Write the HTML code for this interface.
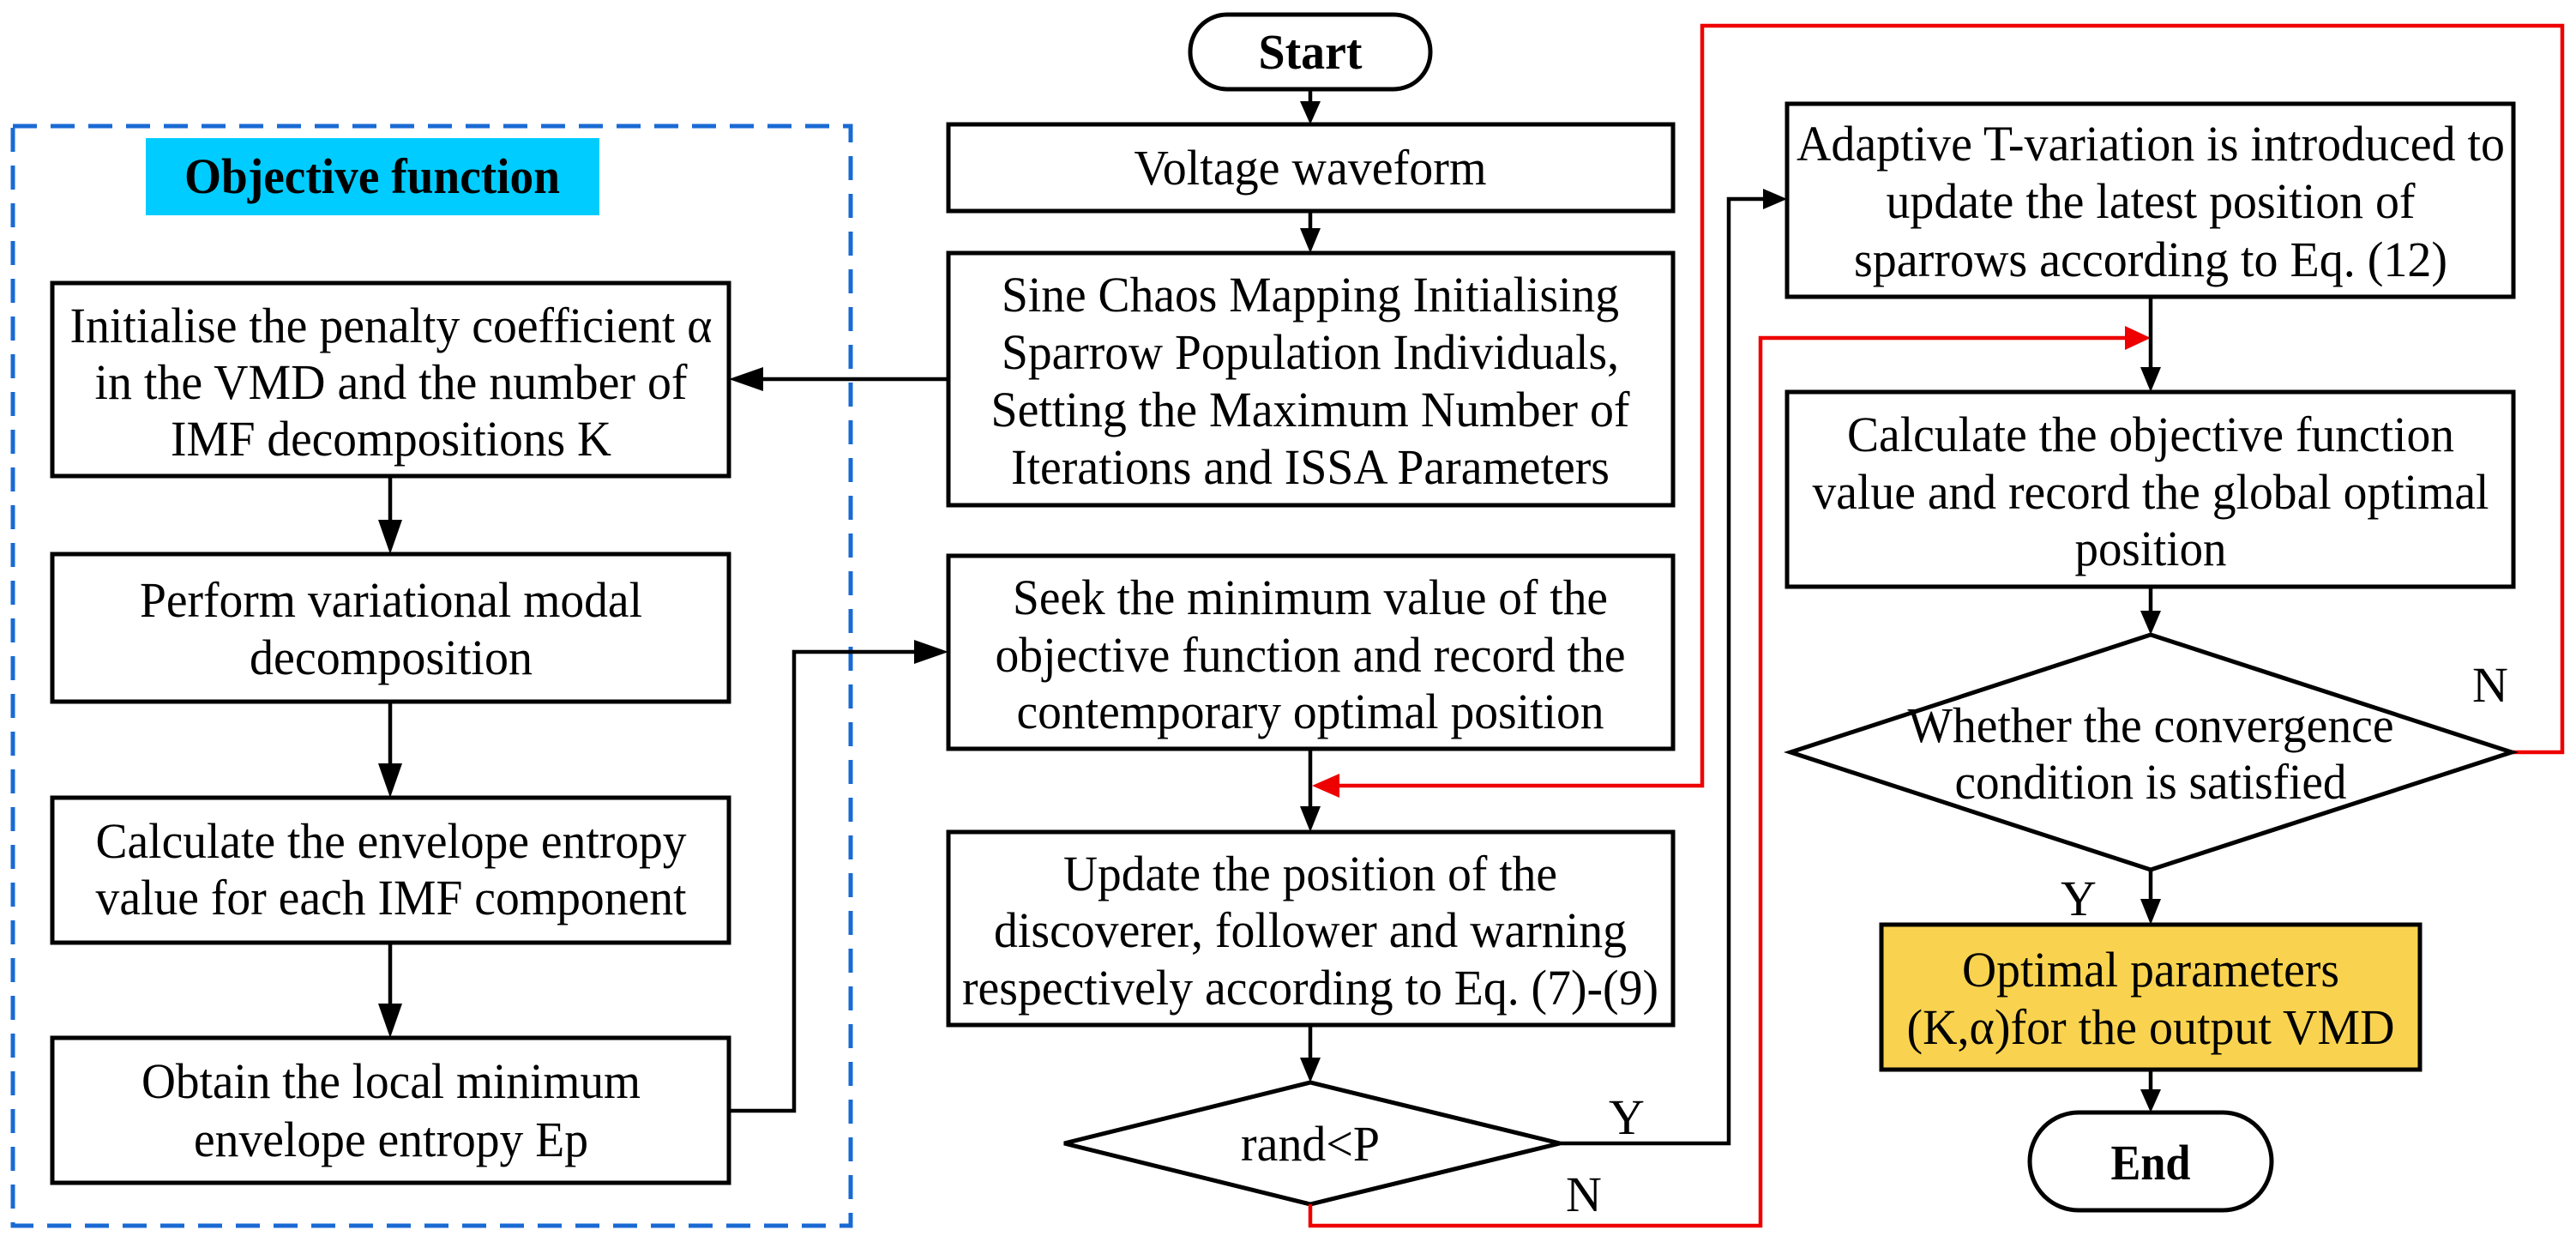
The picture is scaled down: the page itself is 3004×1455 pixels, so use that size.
<!DOCTYPE html>
<html><head><meta charset="utf-8"><style>html,body{margin:0;padding:0;background:#fff}svg{display:block}</style></head>
<body>
<svg width="3004" height="1455" viewBox="0 0 3004 1455" xmlns="http://www.w3.org/2000/svg" font-family="'Liberation Serif', 'Times New Roman', serif">
<style>
text{font-family:'Liberation Serif','Times New Roman',Times,serif;font-size:58px;fill:#000;text-anchor:middle}
.b{font-weight:bold}
.bx{fill:none;stroke:#000;stroke-width:5}
.ln{fill:none;stroke:#000;stroke-width:4.5}
.rl{fill:none;stroke:#e00;stroke-width:4.5}
</style>
<rect x="15" y="147" width="977" height="1282" fill="none" stroke="#1a6ad4" stroke-width="5" stroke-dasharray="28,16"/>
<rect x="170" y="161" width="529" height="90" fill="#00CCFF"/>
<text class="b" x="434" y="225" textLength="438" lengthAdjust="spacingAndGlyphs">Objective function</text>

<rect class="bx" x="61" y="330" width="789" height="225"/>
<text x="456" y="399" textLength="749" lengthAdjust="spacingAndGlyphs">Initialise the penalty coefficient α</text>
<text x="456" y="465" textLength="691" lengthAdjust="spacingAndGlyphs">in the VMD and the number of</text>
<text x="456" y="531" textLength="514" lengthAdjust="spacingAndGlyphs">IMF decompositions K</text>

<rect class="bx" x="61" y="646" width="789" height="172"/>
<text x="456" y="719" textLength="586" lengthAdjust="spacingAndGlyphs">Perform variational modal</text>
<text x="456" y="786" textLength="330" lengthAdjust="spacingAndGlyphs">decomposition</text>

<rect class="bx" x="61" y="930" width="789" height="169"/>
<text x="456" y="1000" textLength="689" lengthAdjust="spacingAndGlyphs">Calculate the envelope entropy</text>
<text x="456" y="1066" textLength="689" lengthAdjust="spacingAndGlyphs">value for each IMF component</text>

<rect class="bx" x="61" y="1210" width="789" height="169"/>
<text x="456" y="1280" textLength="582" lengthAdjust="spacingAndGlyphs">Obtain the local minimum</text>
<text x="456" y="1348" textLength="460" lengthAdjust="spacingAndGlyphs">envelope entropy Ep</text>

<line class="ln" x1="455" y1="555" x2="455" y2="610"/><polygon points="441,606 469,606 455,646"/>
<line class="ln" x1="455" y1="818" x2="455" y2="894"/><polygon points="441,890 469,890 455,930"/>
<line class="ln" x1="455" y1="1099" x2="455" y2="1174"/><polygon points="441,1170 469,1170 455,1210"/>
<polyline class="ln" points="850,1295 926,1295 926,760 1070,760"/><polygon points="1066,746 1066,774 1106,760"/>
<line class="ln" x1="1106" y1="442" x2="888" y2="442"/><polygon points="890,428 890,456 850,442"/>

<rect class="bx" x="1388" y="17" width="280" height="87" rx="43"/>
<text class="b" x="1528" y="80" textLength="121" lengthAdjust="spacingAndGlyphs">Start</text>
<line class="ln" x1="1528" y1="104" x2="1528" y2="120"/><polygon points="1516,118 1540,118 1528,145"/>

<rect class="bx" x="1106" y="145" width="845" height="101"/>
<text x="1528" y="215" textLength="411" lengthAdjust="spacingAndGlyphs">Voltage waveform</text>
<line class="ln" x1="1528" y1="246" x2="1528" y2="268"/><polygon points="1516,266 1540,266 1528,295"/>

<rect class="bx" x="1106" y="295" width="845" height="294"/>
<text x="1528" y="363" textLength="720" lengthAdjust="spacingAndGlyphs">Sine Chaos Mapping Initialising</text>
<text x="1528" y="430" textLength="720" lengthAdjust="spacingAndGlyphs">Sparrow Population Individuals,</text>
<text x="1528" y="497" textLength="745" lengthAdjust="spacingAndGlyphs">Setting the Maximum Number of</text>
<text x="1528" y="564" textLength="698" lengthAdjust="spacingAndGlyphs">Iterations and ISSA Parameters</text>

<rect class="bx" x="1106" y="648" width="845" height="225"/>
<text x="1528" y="716" textLength="694" lengthAdjust="spacingAndGlyphs">Seek the minimum value of the</text>
<text x="1528" y="783" textLength="735" lengthAdjust="spacingAndGlyphs">objective function and record the</text>
<text x="1528" y="849" textLength="685" lengthAdjust="spacingAndGlyphs">contemporary optimal position</text>
<line class="ln" x1="1528" y1="873" x2="1528" y2="943"/><polygon points="1516,940 1540,940 1528,970"/>

<rect class="bx" x="1106" y="970" width="845" height="225"/>
<text x="1528" y="1038" textLength="576" lengthAdjust="spacingAndGlyphs">Update the position of the</text>
<text x="1528" y="1104" textLength="738" lengthAdjust="spacingAndGlyphs">discoverer, follower and warning</text>
<text x="1528" y="1171" textLength="812" lengthAdjust="spacingAndGlyphs">respectively according to Eq. (7)-(9)</text>
<line class="ln" x1="1528" y1="1195" x2="1528" y2="1235"/><polygon points="1516,1233 1540,1233 1528,1262"/>

<polygon class="bx" points="1241,1333 1528,1262 1819,1333 1528,1404"/>
<text x="1528" y="1353" textLength="162" lengthAdjust="spacingAndGlyphs">rand&lt;P</text>
<text x="1897" y="1322">Y</text>
<text x="1847" y="1412">N</text>
<polyline class="ln" points="1819,1333 2016,1333 2016,232 2058,232"/><polygon points="2056,220 2056,244 2084,232"/>

<polyline class="rl" points="1528,1404 1528,1429 2053,1429 2053,394 2480,394"/><polygon fill="#e00" points="2478,380 2478,408 2508,394"/>
<polyline class="rl" points="2929,877 2988,877 2988,30 1985,30 1985,916 1560,916"/><polygon fill="#e00" points="1562,902 1562,930 1530,916"/>

<rect class="bx" x="2084" y="121" width="847" height="225"/>
<text x="2508" y="187" textLength="826" lengthAdjust="spacingAndGlyphs">Adaptive T-variation is introduced to</text>
<text x="2508" y="254" textLength="617" lengthAdjust="spacingAndGlyphs">update the latest position of</text>
<text x="2508" y="322" textLength="692" lengthAdjust="spacingAndGlyphs">sparrows according to Eq. (12)</text>
<line class="ln" x1="2508" y1="346" x2="2508" y2="430"/><polygon points="2496,428 2520,428 2508,457"/>

<rect class="bx" x="2084" y="457" width="847" height="227"/>
<text x="2508" y="526" textLength="708" lengthAdjust="spacingAndGlyphs">Calculate the objective function</text>
<text x="2508" y="593" textLength="789" lengthAdjust="spacingAndGlyphs">value and record the global optimal</text>
<text x="2508" y="659" textLength="177" lengthAdjust="spacingAndGlyphs">position</text>
<line class="ln" x1="2508" y1="684" x2="2508" y2="714"/><polygon points="2496,712 2520,712 2508,740"/>

<polygon class="bx" points="2088,877 2508,740 2929,877 2508,1014"/>
<text x="2508" y="865" textLength="567" lengthAdjust="spacingAndGlyphs">Whether the convergence</text>
<text x="2508" y="931" textLength="457" lengthAdjust="spacingAndGlyphs">condition is satisfied</text>
<text x="2904" y="818">N</text>
<text x="2424" y="1067">Y</text>
<line class="ln" x1="2508" y1="1014" x2="2508" y2="1050"/><polygon points="2496,1048 2520,1048 2508,1078"/>

<rect x="2194" y="1078" width="628" height="169" style="fill:#F9D34F;stroke:#000;stroke-width:5"/>
<text x="2508" y="1150" textLength="440" lengthAdjust="spacingAndGlyphs">Optimal parameters</text>
<text x="2508" y="1217" textLength="569" lengthAdjust="spacingAndGlyphs">(K,α)for the output VMD</text>
<line class="ln" x1="2508" y1="1247" x2="2508" y2="1272"/><polygon points="2496,1270 2520,1270 2508,1297"/>

<rect class="bx" x="2367" y="1297" width="282" height="114" rx="57"/>
<text class="b" x="2508" y="1375" textLength="93" lengthAdjust="spacingAndGlyphs">End</text>
</svg>
</body></html>
